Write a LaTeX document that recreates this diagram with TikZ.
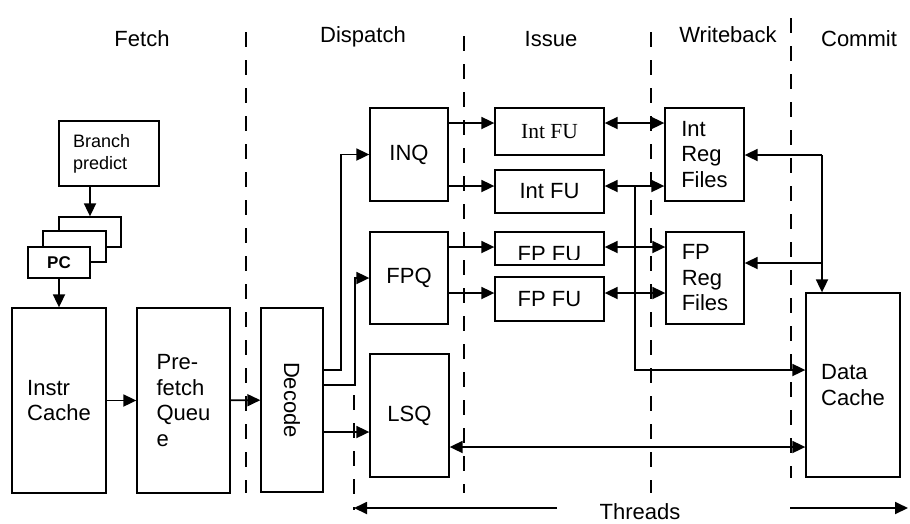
\documentclass[tikz,border=0pt]{standalone}
\usepackage{fontspec}
\setmainfont{Liberation Sans}
\newfontfamily\timesfont{Liberation Serif}
\usetikzlibrary{arrows.meta}

\begin{document}
\begin{tikzpicture}[x=1pt, y=-1pt, every node/.style={font=\fontsize{22}{25.5}\selectfont, align=center}]
    \tikzstyle{block} = [draw, rectangle, fill=white, line width=1.3pt, inner sep=2pt]
    \tikzstyle{arrow} = [line width=1.8pt, -{Triangle[length=13pt, width=12pt]}]
    \tikzstyle{darrow} = [line width=1.8pt, {Triangle[length=13pt, width=12pt]}-{Triangle[length=13pt, width=12pt]}]
    \tikzstyle{boundary} = [line width=1.2pt, dash pattern=on 15pt off 13pt]

    \useasboundingbox (0,0) rectangle (910,523);

    % Stage boundaries
    \draw[boundary] (246,32) -- (246,493);
    \draw[boundary] (354,395) -- (354,510);
    \draw[boundary] (464,36) -- (464,493);
    \draw[boundary] (651,32) -- (651,493);
    \draw[boundary] (791,18) -- (791,478);

    % Stage titles
    \node (fetch) [anchor=base] at (142,46) {Fetch};
    \node (dispatch) [anchor=base] at (363,42) {Dispatch};
    \node (issue) [anchor=base] at (551,46) {Issue};
    \node (wb) [anchor=base] at (728,42) {Writeback};
    \node (commit) [anchor=base] at (859,46) {Commit};

    % Fetch
    \node (bpred) [block, text width=72, inner xsep=14, minimum height=65, font=\fontsize{18}{22}\selectfont, align=left] at (109,153.5) {Branch\\predict};
    \node (pcc) [block, minimum width=62, minimum height=30] at (90,232) {};
    \node (pcb) [block, minimum width=63, minimum height=31] at (74.5,246.5) {};
    \node (pca) [block, minimum width=62, minimum height=31, font=\fontsize{17}{20}\selectfont\bfseries] at (59,262.5) {PC};
    \node (icache) [block, minimum width=94, minimum height=185, align=left] at (59,400.5) {Instr\\Cache};
    \node (pfq) [block, minimum width=93, minimum height=185, align=left] at (183.5,400.5) {Pre-\\fetch\\Queu\\e};
    \node (decode) [block, minimum width=62, minimum height=184] at (292,400) {\rotatebox{-90}{Decode}};

    % Dispatch
    \node (inq) [block, minimum width=78, minimum height=93] at (409,154.5) {INQ};
    \node (fpq) [block, minimum width=78, minimum height=92] at (409,278) {FPQ};
    \node (lsq) [block, minimum width=79, minimum height=123] at (409.5,415.5) {LSQ};

    % Issue
    \node (intfua) [block, minimum width=109, minimum height=47, font=\fontsize{21.5}{24}\timesfont] at (549.5,131.5) {Int FU};
    \node (intfub) [block, minimum width=109, minimum height=43] at (549.5,191.5) {Int FU};
    \node (fpfua) [block, minimum width=109, minimum height=33] at (549.5,248.5) {};
    \node (fpfub) [block, minimum width=109, minimum height=44] at (549.5,299) {FP FU};
    \begin{scope}
        \clip ([yshift=6pt]fpfua.south west) rectangle (fpfua.north east);
        \node (fpfuatxt) [anchor=base] at (549.5,261) {FP FU};
    \end{scope}

    % Writeback
    \node (intreg) [block, minimum width=79, minimum height=93, align=left] at (704.5,154.5) {Int\\Reg\\Files};
    \node (fpreg) [block, minimum width=78, minimum height=92, align=left] at (705,278) {FP\\Reg\\Files};

    % Commit
    \node (dcache) [block, minimum width=94, minimum height=184, align=left] at (853,385) {Data\\Cache};

    % Rows of the connectors
    \coordinate (rowa) at (0,123);
    \coordinate (rowb) at (0,186);
    \coordinate (rowc) at (0,247);
    \coordinate (rowd) at (0,293);
    \coordinate (rowdc) at (0,370);
    \coordinate (rowdf) at (0,385);
    \coordinate (rowlsq) at (0,432);
    \coordinate (rowmem) at (0,447);
    \coordinate (rowfreg) at (0,263);
    \coordinate (tap) at (635,186);
    \coordinate (bus) at (822,155);

    % Arrows
    \draw[arrow] (bpred.south -| pcc.north) -- (pcc.north);
    \draw[arrow] (pca) -- (icache);
    \draw[arrow] (icache) -- (pfq);
    \draw[arrow] (pfq) -- (decode);
    \draw[arrow] (decode.east |- rowdc) -- ++(17,0) |- (inq.west);
    \draw[arrow] (decode.east |- rowdf) -- ++(31,0) |- (fpq.west);
    \draw[arrow] (decode.east |- rowlsq) -- (lsq.west |- rowlsq);
    \draw[arrow] (inq.east |- rowa) -- (intfua.west |- rowa);
    \draw[arrow] (inq.east |- rowb) -- (intfub.west |- rowb);
    \draw[arrow] (fpq.east |- rowc) -- (fpfua.west |- rowc);
    \draw[arrow] (fpq.east |- rowd) -- (fpfub.west |- rowd);
    \draw[darrow] (intfua.east |- rowa) -- (intreg.west |- rowa);
    \draw[darrow] (intfub.east |- rowb) -- (intreg.west |- rowb);
    \draw[darrow] (fpfua.east |- rowc) -- (fpreg.west |- rowc);
    \draw[darrow] (fpfub.east |- rowd) -- (fpreg.west |- rowd);
    \draw[arrow] (tap) |- (dcache.west |- rowdc);
    \draw[arrow] (bus) -- (bus |- dcache.north);
    \draw[arrow] (bus) -- (intreg.east |- bus);
    \draw[arrow] (bus |- rowfreg) -- (fpreg.east |- rowfreg);
    \draw[darrow] (lsq.east |- rowmem) -- (dcache.west |- rowmem);

    % Threads
    \node (threads) [anchor=base] at (640,519) {Threads};
    \coordinate (thla) at (557,508);
    \coordinate (thl) at (354,508);
    \coordinate (thra) at (790,508);
    \coordinate (thr) at (908,508);
    \draw[arrow] (thla) -- (thl);
    \draw[arrow] (thra) -- (thr);
\end{tikzpicture}
\end{document}
